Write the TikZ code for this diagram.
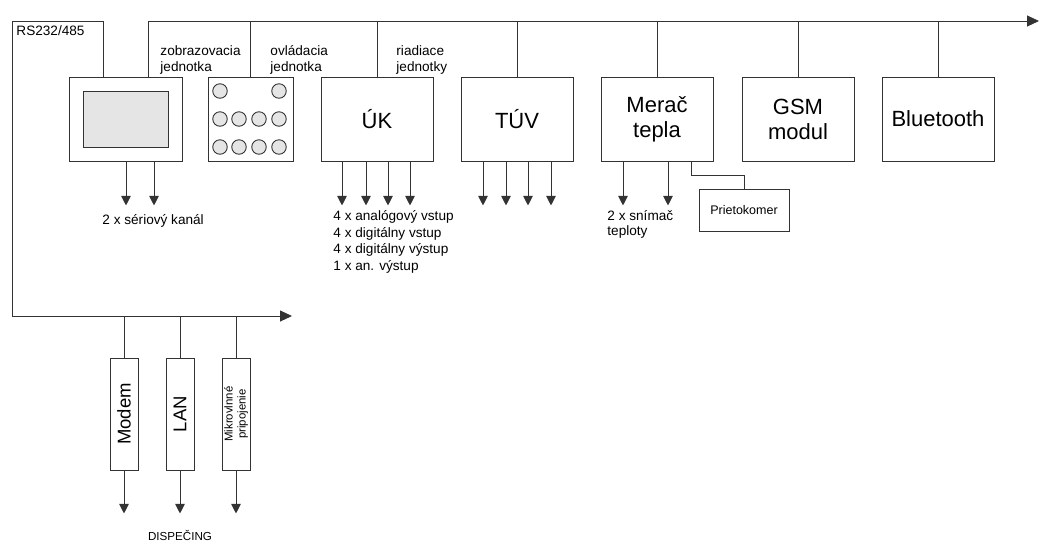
\documentclass[tikz,border=0pt]{standalone}
\usepackage{fontspec}
\setmainfont{Liberation Sans}
\usepackage{tikz}
\usetikzlibrary{arrows.meta}

\begin{document}
\begin{tikzpicture}[x=1pt,y=1pt,line width=0.9pt,color=black!80,text=black,
  blok/.style={draw,minimum width=112pt,minimum height=84pt,inner sep=0pt,align=center,font=\fontsize{22}{25}\selectfont},
  zvis/.style={draw,rotate=90,minimum width=112pt,minimum height=28pt,inner sep=0pt,align=center},
  popis/.style={anchor=west,align=left,inner sep=0pt,font=\fontsize{13.6}{16.7}\selectfont},
  tlacidlo/.style={draw,circle,fill=black!10,minimum size=14.5pt,inner sep=0pt},
  sig/.style={-{Triangle[length=9.5pt,width=9.5pt]}},
  zbernica/.style={-{Triangle[length=12pt,width=11pt]}}]
\useasboundingbox (0,0) rectangle (1039,-542);

\coordinate (zl)  at (148,-21);
\coordinate (zr)  at (1039,-21);
\coordinate (rs)  at (12,-21);
\coordinate (rsd) at (12,-316);
\coordinate (dr)  at (292,-316);

\draw (16,-31) node (lrs) [popis] {RS232/485};

\draw (125.5,-119) node (disp) [blok,minimum width=113pt] {};
\draw (disp.center) node (scr) [draw,fill=black!10,minimum width=85pt,minimum height=56pt] {};
\draw (250.5,-119) node (ovl) [blok,minimum width=85pt] {};
\foreach \x/\y in {220/91,279/91,220/119,239/119,259/119,279/119,220/147,239/147,259/147,279/147}
  \draw (\x,-\y) node (b\x-\y) [tlacidlo] {};

\draw (377,-119) node (uk)    [blok] {ÚK};
\draw (517,-119) node (tuv)   [blok] {TÚV};
\draw (657,-119) node (merac) [blok] {Merač\\tepla};
\draw (798,-119) node (gsm)   [blok] {GSM\\modul};
\draw (938,-119) node (bt)    [blok] {Bluetooth};

\draw (160,-60) node (lzob) [popis] {zobrazovacia\\jednotka};
\draw (270,-60) node (lovl) [popis] {ovládacia\\jednotka};
\draw (396,-60) node (lria) [popis] {riadiace\\jednotky};

\draw[zbernica] (disp.north -| zl) -- (zl) -- (zr);
\draw[zbernica] ([xshift=-22.5pt]disp.north) |- (rs) -- (rsd) -- (dr);
\foreach \n in {ovl,uk,tuv,merac,gsm,bt}
  \draw (\n.north) -- (\n.north |- zl);

\foreach \x in {126,154} \draw[sig] (\x,0 |- disp.south) -- ++(0,-44);
\foreach \x in {342,366,388,410} \draw[sig] (\x,0 |- uk.south) -- ++(0,-44);
\foreach \x in {483,506,528,551} \draw[sig] (\x,0 |- tuv.south) -- ++(0,-44);
\foreach \x in {623,668} \draw[sig] (\x,0 |- merac.south) -- ++(0,-44);

\draw (102,-221) node (lser) [popis] {2 x sériový kanál};
\draw (333,-242) node (lvst) [popis] {4 x analógový vstup\\4 x digitálny vstup\\4 x digitálny výstup\\1 x an. výstup};
\draw (607,-224.5) node (lsni) [popis,font=\fontsize{13.6}{15.7}\selectfont] {2 x snímač\\teploty};

\draw (744,-210) node (prieto) [draw,minimum width=90pt,minimum height=42pt,font=\fontsize{12.5}{14}\selectfont] {Prietokomer};
\draw ([xshift=34pt]merac.south) -- ++(0,-14) -| (prieto.north);

% dispecing
\draw (124,-414) node (modem) [zvis,font=\fontsize{18.5}{20}\selectfont] {Modem};
\draw (180,-414) node (lan)   [zvis,font=\fontsize{18.5}{20}\selectfont] {LAN};
\draw (236,-414) node (mikro) [zvis,font=\fontsize{11.4}{13}\selectfont] {Mikrovlnné\\pripojenie};
\foreach \n in {modem,lan,mikro} {
  \draw (\n.east) -- (\n.east |- dr);
  \draw[sig] (\n.west) -- ++(0,-43);
}
\draw (180,-535) node (ldisp) [font=\fontsize{11.6}{13}\selectfont] {DISPEČING};
\end{tikzpicture}
\end{document}
